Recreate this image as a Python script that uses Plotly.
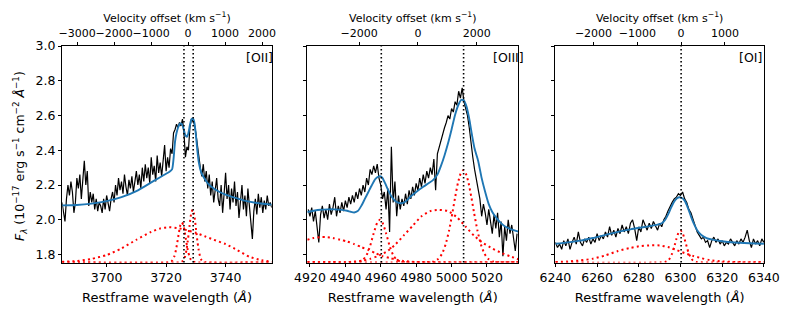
import numpy as np
import plotly.graph_objects as go

C_KMS = 299792.458

# ---------------- [OII] panel ----------------
oii_wave = np.arange(3685.0, 3756.0, 0.5)
oii_flux = [
    2.10, 2.05, 1.99, 2.12, 2.20, 2.14, 2.22, 2.16, 2.04, 2.10,
    2.24, 2.18, 2.26, 2.12, 2.22, 2.34, 2.20, 2.28, 2.08, 2.16,
    2.10, 2.15, 2.06, 2.12, 2.05, 2.10, 2.08, 2.04, 2.12, 2.06,
    2.14, 2.09, 2.05, 2.12, 2.16, 2.10, 2.20, 2.14, 2.24, 2.17,
    2.22, 2.15, 2.26, 2.19, 2.14, 2.23, 2.18, 2.25, 2.16, 2.22,
    2.28, 2.20, 2.26, 2.18, 2.30, 2.22, 2.32, 2.24, 2.30, 2.21,
    2.36, 2.26, 2.31, 2.22, 2.37, 2.27, 2.33, 2.25, 2.34, 2.43,
    2.28, 2.36, 2.30, 2.41, 2.38, 2.50, 2.52, 2.55, 2.53, 2.56,
    2.54, 2.58, 2.50, 2.36, 2.42, 2.40, 2.53, 2.58, 2.57, 2.55,
    2.50, 2.42, 2.36, 2.30, 2.25, 2.32, 2.22, 2.28, 2.18, 2.26,
    2.14, 2.22, 2.10, 2.18, 2.24, 2.12, 2.08, 2.20, 2.04, 2.15,
    2.27, 2.12, 2.20, 2.06, 2.18, 2.10, 2.22, 2.08, 2.16, 2.01,
    2.12, 2.20, 2.06, 2.14, 2.02, 2.18, 2.08, 1.97, 1.89, 2.05,
    2.12, 2.03, 2.15, 2.07, 2.13, 2.04, 2.11, 2.06, 2.14, 2.08,
    2.10, 2.07,
]
oii_fit_wave = [3685, 3690, 3695, 3700, 3705, 3710, 3715, 3718, 3720, 3721, 3722, 3722.5,
                3723, 3723.5, 3724, 3724.5, 3725, 3725.5, 3726, 3726.5, 3727, 3727.5, 3728,
                3728.5, 3729, 3729.5, 3730, 3730.5, 3731, 3731.5, 3732, 3733, 3734, 3736,
                3738, 3740, 3743, 3746, 3750, 3755.5]
oii_fit_flux = [2.083, 2.085, 2.093, 2.107, 2.13, 2.165, 2.215, 2.245, 2.265, 2.275, 2.29, 2.35,
                2.45, 2.50, 2.53, 2.55, 2.555, 2.545, 2.515, 2.485, 2.478, 2.50, 2.545,
                2.578, 2.583, 2.56, 2.49, 2.40, 2.33, 2.29, 2.265, 2.235, 2.21, 2.18,
                2.16, 2.145, 2.128, 2.112, 2.098, 2.087]
oii_broad_wave = [3685, 3690, 3695, 3700, 3705, 3710, 3715, 3718, 3721, 3724, 3727, 3730,
                  3733, 3736, 3740, 3744, 3748, 3752, 3755.5]
oii_broad_flux = [1.758, 1.763, 1.775, 1.797, 1.835, 1.885, 1.93, 1.95, 1.957, 1.952, 1.94,
                  1.925, 1.905, 1.885, 1.86, 1.825, 1.787, 1.767, 1.76]
oii_n1_wave = [3685, 3720.8, 3721.8, 3722.3, 3722.8, 3723.3, 3723.8, 3724.3, 3724.8, 3725.3,
               3725.8, 3726.3, 3726.8, 3727.3, 3727.8, 3728.3, 3728.8, 3729.8, 3755.5]
oii_n1_flux = [1.755, 1.755, 1.761, 1.771, 1.791, 1.825, 1.873, 1.926, 1.969, 1.985,
               1.969, 1.926, 1.873, 1.825, 1.791, 1.771, 1.761, 1.755, 1.755]
oii_n2_wave = [3685, 3724.4, 3725.4, 3725.9, 3726.4, 3726.9, 3727.4, 3727.9, 3728.4, 3728.9,
               3729.4, 3729.9, 3730.4, 3730.9, 3731.4, 3731.9, 3732.4, 3733.4, 3755.5]
oii_n2_flux = [1.755, 1.755, 1.76, 1.768, 1.79, 1.831, 1.894, 1.969, 2.033, 2.058,
               2.033, 1.969, 1.894, 1.831, 1.79, 1.768, 1.76, 1.755, 1.755]
oii_lines = [3726.0, 3729.1]

# ---------------- [OIII] panel ----------------
oiii_wave = np.arange(4919.0, 5038.0, 1.0)
oiii_flux = [
    2.06, 2.02, 2.07, 1.99, 2.05, 1.96, 1.87, 2.03, 2.08, 2.01,
    2.06, 2.00, 2.09, 2.03, 2.07, 2.13, 2.02, 2.08, 2.04, 2.10,
    2.05, 2.11, 2.07, 2.13, 2.09, 2.14, 2.10, 2.16, 2.12, 2.18,
    2.14, 2.20, 2.16, 2.24, 2.20, 2.29, 2.26, 2.31, 2.27, 2.32,
    2.24, 2.20, 2.12, 2.16, 2.06, 2.18, 1.93, 2.42, 2.10, 2.22,
    2.02, 2.14, 2.06, 2.12, 2.08, 2.15, 2.09, 2.17, 2.12, 2.19,
    2.14, 2.21, 2.17, 2.24, 2.19, 2.26, 2.21, 2.28, 2.24, 2.30,
    2.26, 2.35, 2.17, 2.38, 2.42, 2.46, 2.50, 2.53, 2.56, 2.60,
    2.58, 2.64, 2.62, 2.68, 2.66, 2.74, 2.70, 2.76, 2.68, 2.64,
    2.60, 2.53, 2.43, 2.36, 2.29, 2.24, 2.17, 2.12, 2.02, 2.09,
    2.04, 1.97, 2.06, 1.98, 1.92, 2.03, 1.95, 2.04, 1.90, 1.99,
    1.79, 1.96, 1.88, 2.00, 1.92, 1.97, 1.89, 1.82, 1.92,
]
oiii_fit_wave = [4918.5, 4922, 4926, 4930, 4934, 4938, 4941, 4943, 4945, 4947, 4949, 4951,
                 4953, 4955, 4957, 4959, 4960, 4961, 4962.5, 4964, 4966, 4968, 4970, 4972,
                 4974, 4977, 4980, 4984, 4987, 4989.5, 4992, 4994, 4996, 4998, 5000, 5002,
                 5004, 5005.5, 5007, 5008.5, 5010, 5011.5, 5013, 5015, 5017, 5019, 5021,
                 5023, 5025, 5027.5, 5030, 5033, 5037.7]
oiii_fit_flux = [2.045, 2.052, 2.058, 2.06, 2.06, 2.057, 2.052, 2.046, 2.042, 2.05, 2.08, 2.12,
                 2.16, 2.20, 2.235, 2.25, 2.25, 2.24, 2.21, 2.175, 2.135, 2.11, 2.098, 2.096,
                 2.105, 2.135, 2.16, 2.19, 2.21, 2.228, 2.26, 2.31, 2.37, 2.44, 2.52, 2.605,
                 2.665, 2.69, 2.685, 2.65, 2.58, 2.49, 2.41, 2.34, 2.24, 2.16, 2.09,
                 2.045, 2.015, 1.985, 1.963, 1.948, 1.932]
oiii_a_wave = [4918.5, 4922, 4926, 4929, 4933, 4937, 4941, 4945, 4949, 4953, 4957, 4961,
               4965, 4969, 4973, 4978, 4985, 5037.7]
oiii_a_flux = [1.885, 1.895, 1.90, 1.90, 1.895, 1.885, 1.875, 1.86, 1.843, 1.826, 1.808, 1.79,
               1.78, 1.77, 1.763, 1.758, 1.756, 1.755]
oiii_b_wave = [4918.5, 4944, 4948, 4950, 4952, 4954, 4956, 4958, 4959.5, 4961, 4963, 4965,
               4967, 4969, 4971, 4975, 5037.7]
oiii_b_flux = [1.755, 1.755, 1.759, 1.77, 1.797, 1.85, 1.922, 1.983, 2.0, 1.983, 1.922, 1.85,
               1.797, 1.77, 1.759, 1.755, 1.755]
oiii_c_wave = [4918.5, 4940, 4946, 4950, 4954, 4958, 4963, 4968, 4973, 4978, 4983, 4988,
               4993, 4998, 5003, 5008, 5013, 5018, 5023, 5028, 5033, 5037.7]
oiii_c_flux = [1.755, 1.756, 1.76, 1.765, 1.775, 1.79, 1.815, 1.855, 1.91, 1.965, 2.02, 2.05,
               2.057, 2.05, 2.015, 1.96, 1.905, 1.865, 1.835, 1.81, 1.79, 1.773]
oiii_d_wave = [4918.5, 4986, 4989.6, 4992.6, 4994.6, 4996.6, 4998.6, 5000.6, 5002.1, 5003.6,
               5005.1, 5006.6, 5008.1, 5009.6, 5011.1, 5012.6, 5014.6, 5016.6, 5018.6,
               5020.6, 5023.6, 5027, 5037.7]
oiii_d_flux = [1.755, 1.756, 1.759, 1.776, 1.804, 1.857, 1.939, 2.047, 2.134, 2.212,
               2.265, 2.285, 2.265, 2.212, 2.134, 2.047, 1.939, 1.857, 1.804,
               1.776, 1.759, 1.756, 1.755]
oiii_lines = [4960.3, 5006.8]

# ---------------- [OI] panel ----------------
oi_wave = np.arange(6240.0, 6341.0, 1.0)
oi_flux = [
    1.87, 1.84, 1.86, 1.83, 1.88, 1.85, 1.89, 1.83, 1.87, 1.90,
    1.86, 1.93, 1.87, 1.85, 1.89, 1.87, 1.90, 1.86, 1.89, 1.87,
    1.92, 1.88, 1.91, 1.89, 1.93, 1.90, 1.96, 1.91, 1.94, 1.90,
    1.95, 1.92, 1.97, 1.93, 1.96, 1.92, 1.98, 2.00, 1.95, 1.88,
    1.96, 1.93, 2.00, 1.97, 1.94, 1.98, 1.95, 1.99, 1.96, 1.94,
    1.98, 1.96, 2.00, 2.02, 2.05, 2.08, 2.10, 2.12, 2.13, 2.15,
    2.14, 2.16, 2.12, 2.10, 2.06, 2.04, 2.00, 1.96, 1.93, 1.91,
    1.89, 1.90, 1.87, 1.88, 1.84, 1.88, 1.90, 1.87, 1.89, 1.86,
    1.88, 1.85, 1.87, 1.86, 1.89, 1.87, 1.85, 1.88, 1.86, 1.89,
    1.87, 1.90, 1.94, 1.88, 1.84, 1.89, 1.86, 1.88, 1.85, 1.89,
    1.87,
]
oi_fit_wave = [6240, 6246, 6252, 6258, 6264, 6270, 6276, 6282, 6286, 6289, 6291, 6292.5,
               6294, 6295.5, 6297, 6298.5, 6299.5, 6300.5, 6302, 6303.5, 6305, 6306.5, 6308,
               6310, 6312.5, 6316, 6320, 6326, 6333, 6340]
oi_fit_flux = [1.862, 1.87, 1.88, 1.895, 1.913, 1.93, 1.945, 1.957, 1.965, 1.972, 1.98, 1.997,
               2.03, 2.07, 2.105, 2.125, 2.13, 2.127, 2.11, 2.07, 2.02, 1.975, 1.94,
               1.912, 1.895, 1.884, 1.876, 1.869, 1.865, 1.862]
oi_broad_wave = [6240, 6246, 6252, 6258, 6264, 6270, 6276, 6281, 6286, 6290, 6294, 6298,
                 6302, 6306, 6310, 6314, 6320, 6330, 6340]
oi_broad_flux = [1.757, 1.76, 1.766, 1.776, 1.795, 1.82, 1.838, 1.849, 1.853, 1.852, 1.843,
                 1.826, 1.808, 1.792, 1.779, 1.768, 1.76, 1.756, 1.755]
oi_narrow_wave = [6240, 6292.5, 6294, 6295, 6296, 6297, 6298, 6299, 6300, 6301, 6302, 6303,
                  6304, 6305, 6306, 6307.5, 6340]
oi_narrow_flux = [1.755, 1.757, 1.765, 1.78, 1.806, 1.844, 1.888, 1.924, 1.938, 1.924, 1.888,
                  1.844, 1.806, 1.78, 1.765, 1.757, 1.755]
oi_lines = [6300.3]

# panel settings
panels = [
    dict(wave=oii_wave, flux=oii_flux, fit=(oii_fit_wave, oii_fit_flux),
         comps=[(oii_broad_wave, oii_broad_flux), (oii_n1_wave, oii_n1_flux), (oii_n2_wave, oii_n2_flux)],
         lines=oii_lines, xr=(3685.1, 3755.5), lam0=3727.4, vdtick=1000, label="[OII]"),
    dict(wave=oiii_wave, flux=oiii_flux, fit=(oiii_fit_wave, oiii_fit_flux),
         comps=[(oiii_a_wave, oiii_a_flux), (oiii_b_wave, oiii_b_flux), (oiii_c_wave, oiii_c_flux), (oiii_d_wave, oiii_d_flux)],
         lines=oiii_lines, xr=(4918.5, 5037.7), lam0=4981.0, vdtick=2000, label="[OIII]"),
    dict(wave=oi_wave, flux=oi_flux, fit=(oi_fit_wave, oi_fit_flux),
         comps=[(oi_broad_wave, oi_broad_flux), (oi_narrow_wave, oi_narrow_flux)],
         lines=oi_lines, xr=(6239.95, 6340.05), lam0=6300.3, vdtick=1000, label="[OI]"),
]

W, H = 793, 317
OFF = 8  # the page body adds an 8 px margin; place everything 8 px up/left to compensate
x_domains = [((62.3 - OFF) / W, (271.7 - OFF) / W),
             ((307.3 - OFF) / W, (518.3 - OFF) / W),
             ((555.3 - OFF) / W, (764.0 - OFF) / W)]
y_domain = (1 - (262.5 - OFF) / H, 1 - (46 - OFF) / H)
YR = (1.754, 3.0005)
FONT = "DejaVu Sans"

fig = go.Figure()
layout = dict(
    width=W, height=H, margin=dict(l=0, r=0, t=0, b=0, pad=0, autoexpand=False),
    paper_bgcolor="white", plot_bgcolor="white", showlegend=False,
    font=dict(family=FONT, size=12.5, color="black"),
)
shapes = []
annotations = []

for i, p in enumerate(panels):
    n = i + 1
    xa = "x" if n == 1 else f"x{n}"
    ya = "y" if n == 1 else f"y{n}"
    xt = f"x{n + 3}"
    # spectrum
    fig.add_trace(go.Scatter(x=p["wave"], y=p["flux"], mode="lines", xaxis=xa, yaxis=ya,
                             line=dict(color="black", width=1.2), hoverinfo="skip"))
    # fit
    fig.add_trace(go.Scatter(x=p["fit"][0], y=p["fit"][1], mode="lines", xaxis=xa, yaxis=ya,
                             line=dict(color="#1f77b4", width=1.9, shape="spline", smoothing=0.6),
                             hoverinfo="skip"))
    # components
    for cw, cf in p["comps"]:
        fig.add_trace(go.Scatter(x=cw, y=cf, mode="lines", xaxis=xa, yaxis=ya,
                                 line=dict(color="red", width=2, dash="2px,3.2px", shape="spline", smoothing=0.6),
                                 hoverinfo="skip"))
    # invisible trace for the velocity axis
    vmin = C_KMS * (p["xr"][0] / p["lam0"] - 1)
    vmax = C_KMS * (p["xr"][1] / p["lam0"] - 1)
    fig.add_trace(go.Scatter(x=[vmin, vmax], y=[None, None], mode="lines", xaxis=xt, yaxis=ya,
                             showlegend=False, hoverinfo="skip"))
    for lam in p["lines"]:
        shapes.append(dict(type="line", xref=xa, yref=f"{ya} domain", x0=lam, x1=lam, y0=0, y1=1,
                           line=dict(color="black", width=1.6, dash="1.6px,2.4px"), layer="above"))

    axkey = "xaxis" if n == 1 else f"xaxis{n}"
    aykey = "yaxis" if n == 1 else f"yaxis{n}"
    layout[axkey] = dict(
        domain=list(x_domains[i]), anchor=ya, range=list(p["xr"]), dtick=20, tick0=0,
        tickformat="d", ticks="outside", ticklen=3.5, tickwidth=0.8, tickcolor="black",
        showline=True, linecolor="black", linewidth=0.8, mirror=False, tickangle=0,
        showgrid=False, zeroline=False, tickfont=dict(size=12.5), automargin=False,
        title=dict(text="Restframe wavelength (<i>Å</i>)", font=dict(size=13), standoff=8),
    )
    layout[f"xaxis{n + 3}"] = dict(
        domain=list(x_domains[i]), anchor=ya, overlaying=xa, side="top",
        range=[vmin, vmax], dtick=p["vdtick"], tick0=0, tickformat="d", tickangle=0,
        ticks="outside", ticklen=3.5, tickwidth=0.8, tickcolor="black",
        showline=True, linecolor="black", linewidth=0.8, automargin=False,
        showgrid=False, zeroline=False, tickfont=dict(size=11),
        title=dict(text="Velocity offset (km s<sup>−1</sup>)", font=dict(size=11), standoff=2),
    )
    layout[aykey] = dict(
        domain=list(y_domain), anchor=xa, range=list(YR), dtick=0.2, tick0=1.8,
        tickformat=".1f", ticks="outside", ticklen=3.5, tickwidth=0.8, tickcolor="black",
        showline=True, linecolor="black", linewidth=0.8, mirror=True, automargin=False,
        showgrid=False, zeroline=False, showticklabels=(n == 1), tickfont=dict(size=12.5),
    )
    annotations.append(dict(text=p["label"], xref=f"{xa} domain", yref=f"{ya} domain",
                            x=0.87, y=0.945, xanchor="left", yanchor="middle", showarrow=False,
                            font=dict(size=12.5)))

annotations.append(dict(
    text="<i>F</i><sub><i>λ</i></sub> (10<sup>−17</sup> erg s<sup>−1</sup> cm<sup>−2</sup> <i>Å</i><sup>−1</sup>)",
    xref="paper", yref="paper", x=(20 - OFF) / W, y=1 - (156 - OFF) / H, xanchor="center", yanchor="middle",
    textangle=-90, showarrow=False, font=dict(size=12.5)))

layout["shapes"] = shapes
layout["annotations"] = annotations
fig.update_layout(**layout)
fig.write_html("out.html")
